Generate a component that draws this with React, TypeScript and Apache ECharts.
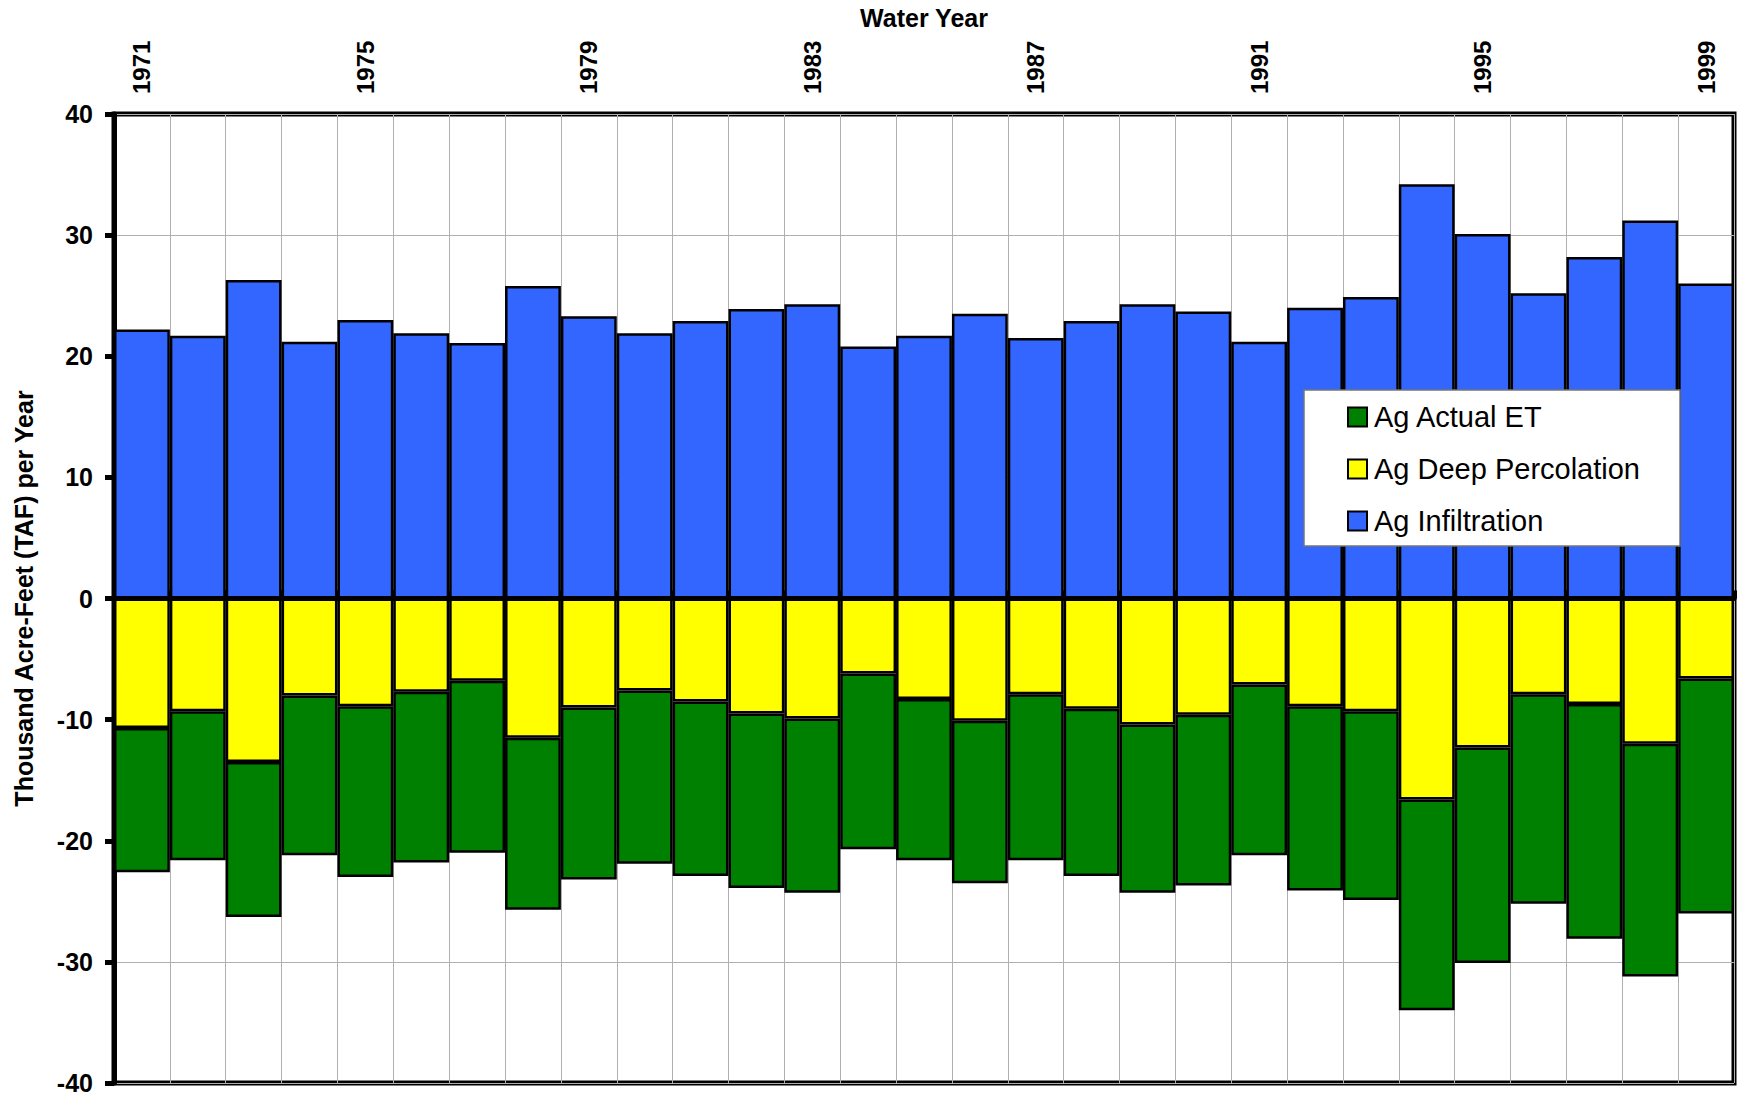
import React, { useEffect, useRef } from "react";
import * as echarts from "echarts";

const years = ["1971","1972","1973","1974","1975","1976","1977","1978","1979","1980","1981","1982","1983","1984","1985","1986","1987","1988","1989","1990","1991","1992","1993","1994","1995","1996","1997","1998","1999"];

const agInfiltration = [22.2, 21.7, 26.3, 21.2, 23.0, 21.9, 21.1, 25.8, 23.3, 21.9, 22.9, 23.9, 24.3, 20.8, 21.7, 23.5, 21.5, 22.9, 24.3, 23.7, 21.2, 24.0, 24.9, 34.2, 30.1, 25.2, 28.2, 31.2, 26.0];

const agDeepPercolation = [-10.7, -9.3, -13.5, -8.0, -8.9, -7.7, -6.8, -11.5, -9.0, -7.6, -8.5, -9.5, -9.9, -6.2, -8.3, -10.1, -7.9, -9.1, -10.4, -9.6, -7.1, -8.9, -9.3, -16.6, -12.3, -7.9, -8.7, -12.0, -6.6];

const agActualET = [-11.9, -12.3, -12.8, -13.2, -14.1, -14.1, -14.2, -14.2, -14.2, -14.3, -14.4, -14.4, -14.4, -14.5, -13.3, -13.4, -13.7, -13.8, -13.9, -14.1, -14.1, -15.2, -15.6, -17.4, -17.8, -17.3, -19.4, -19.2, -19.4];

const yTicks = { min: -40, max: 40, interval: 10 };

const FONT = "'Liberation Sans', Arial, Helvetica, sans-serif";

export default function App() {
  const ref = useRef<HTMLDivElement>(null);
  useEffect(() => {
    if (!ref.current) return;
    const chart = echarts.init(ref.current, null, { renderer: "svg" });
    const barBorder = { borderColor: "#000", borderWidth: 2.5 };
    chart.setOption({
      animation: false,
      backgroundColor: "#fff",
      textStyle: { fontFamily: FONT },
      grid: {
        left: 114,
        right: 3,
        top: 114,
        bottom: 16,
        containLabel: false,
        outerBoundsMode: "none",
        show: true,
        borderColor: "#000",
        borderWidth: 5,
        backgroundColor: "#fff",
      },
      legend: {
        data: ["Ag Actual ET", "Ag Deep Percolation", "Ag Infiltration"],
        orient: "vertical",
        left: 1304,
        top: 390,
        itemWidth: 19,
        itemHeight: 19,
        itemGap: 22,
        padding: [12, 40, 10, 43],
        backgroundColor: "#fff",
        borderColor: "#777",
        borderWidth: 1.5,
        icon: "rect",
        textStyle: {
          fontFamily: FONT,
          fontSize: 29,
          color: "#000",
          lineHeight: 30,
          padding: [0, 0, 0, 2],
        },
      },
      xAxis: {
        type: "category",
        data: years,
        position: "top",
        boundaryGap: true,
        name: "Water Year",
        nameLocation: "middle",
        nameGap: 84,
        nameTextStyle: { fontFamily: FONT, fontWeight: "bold", fontSize: 25, color: "#000" },
        axisLine: { show: true, lineStyle: { color: "#000", width: 5 } },
        axisTick: {
          show: true,
          interval: 0,
          alignWithLabel: false,
          length: 8,
          lineStyle: { color: "#000", width: 5 },
        },
        axisLabel: {
          interval: 3,
          rotate: 90,
          margin: 20,
          fontFamily: FONT,
          fontWeight: "bold",
          fontSize: 24,
          color: "#000",
        },
        splitLine: { show: true, interval: 0, lineStyle: { color: "#b0b0b0", width: 1 } },
      },
      yAxis: {
        type: "value",
        min: yTicks.min,
        max: yTicks.max,
        interval: yTicks.interval,
        name: "Thousand Acre-Feet (TAF) per Year",
        nameLocation: "middle",
        nameGap: 78,
        nameTextStyle: { fontFamily: FONT, fontWeight: "bold", fontSize: 25, color: "#000" },
        axisLine: { show: true, lineStyle: { color: "#000", width: 5 } },
        axisTick: { show: true, length: 9, lineStyle: { color: "#000", width: 5 } },
        axisLabel: { margin: 21, fontFamily: FONT, fontWeight: "bold", fontSize: 25, color: "#000" },
        splitLine: { show: true, lineStyle: { color: "#b0b0b0", width: 1 } },
      },
      series: [
        {
          name: "Ag Infiltration",
          type: "bar",
          stack: "total",
          data: agInfiltration,
          barCategoryGap: "0%",
          itemStyle: { color: "#3366FF", ...barBorder },
        },
        {
          name: "Ag Deep Percolation",
          type: "bar",
          stack: "total",
          data: agDeepPercolation,
          barCategoryGap: "0%",
          itemStyle: { color: "#FFFF00", ...barBorder },
        },
        {
          name: "Ag Actual ET",
          type: "bar",
          stack: "total",
          data: agActualET,
          barCategoryGap: "0%",
          itemStyle: { color: "#008000", ...barBorder },
        },
      ],
    });
    return () => chart.dispose();
  }, []);
  return (
    <div
      ref={ref}
      style={{ position: "fixed", left: 0, top: 0, width: 1737, height: 1099 }}
    />
  );
}
